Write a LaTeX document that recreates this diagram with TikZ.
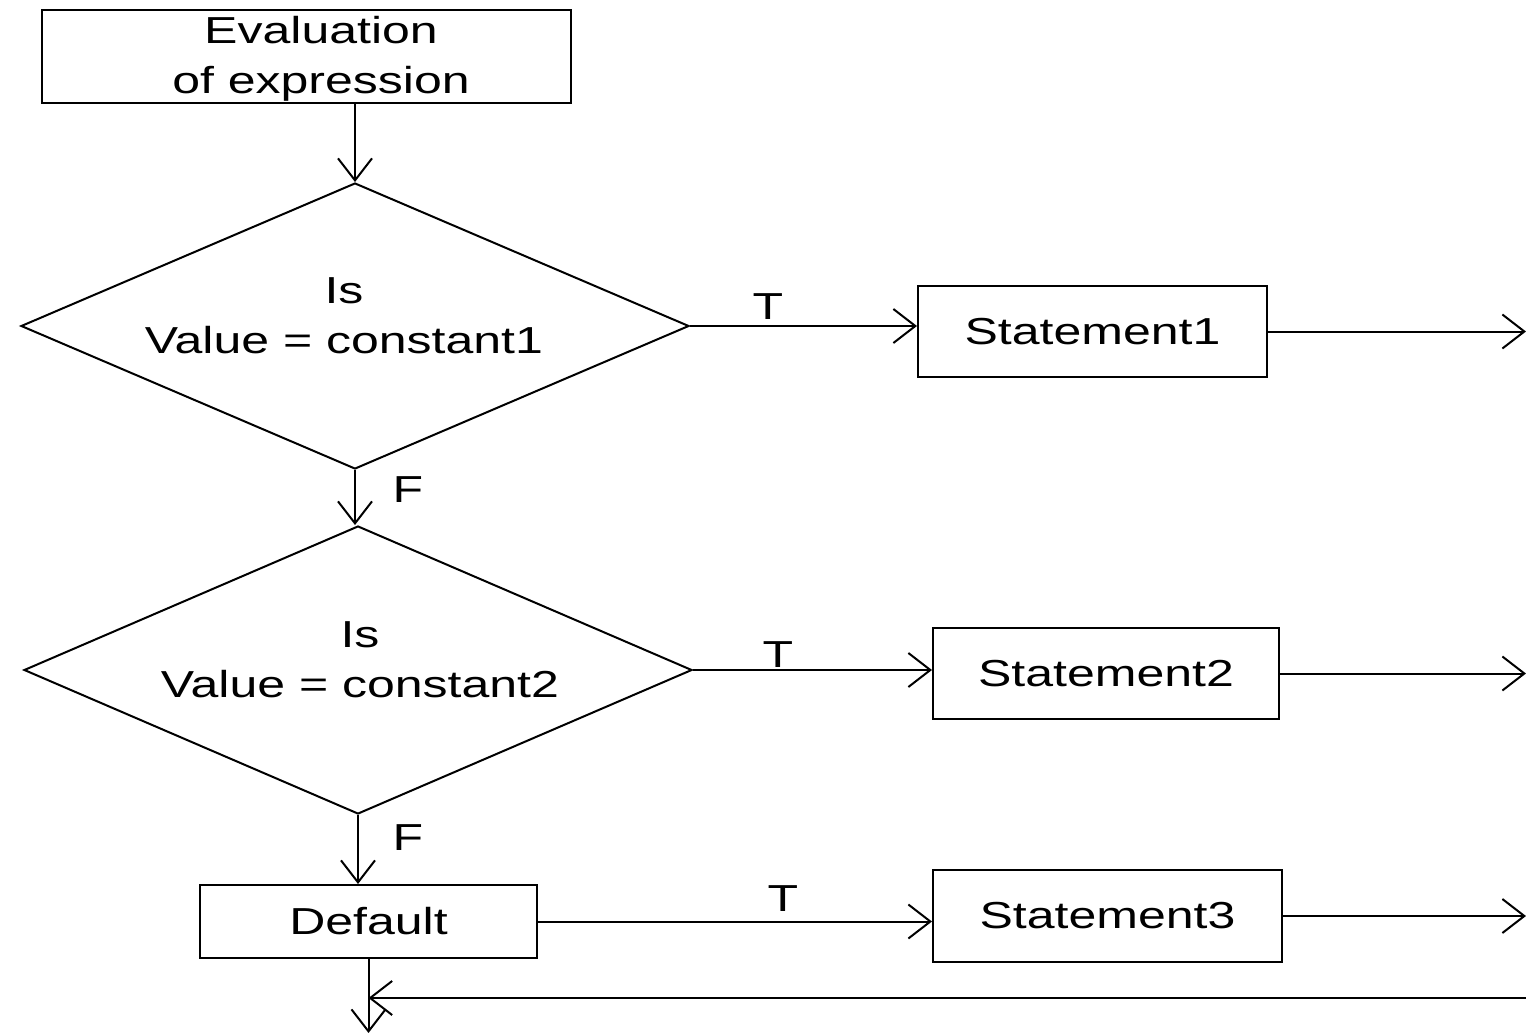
\documentclass[tikz,border=0pt]{standalone}
\usepackage{fontspec}
\setmainfont{Liberation Sans}
\usepackage{graphicx}
\usetikzlibrary{shapes.geometric,arrows.meta}
\newcommand{\wtxt}[1]{\scalebox{1.33}[1]{#1}}

\begin{document}
\begin{tikzpicture}[x=0.5pt, y=-0.5pt, line width=1pt,
    >={Straight Barb[length=11pt,width=17pt]},
    box/.style={draw, rectangle, inner sep=0pt, align=center, font=\fontsize{18.8}{25}\selectfont},
    test/.style={draw, diamond, aspect=2.34, inner sep=0pt, minimum width=334pt, minimum height=143pt},
    lbl/.style={align=center, font=\fontsize{18.8}{25}\selectfont}]
    \useasboundingbox (0,0) rectangle (1526,1033);

    \node[box, minimum width=264.5pt, minimum height=46.5pt] (eval) at (306.5,56.5) {};
    \node[lbl] (evaltxt) at (321,59) {\wtxt{Evaluation}\\\wtxt{of expression}};
    \node[test] (d1) at (355,326) {};
    \node[lbl] (d1txt) at (344,316) {\wtxt{Is}\\\wtxt{Value = constant1}};
    \node[test, minimum height=144pt] (d2) at (358,670) {};
    \node[lbl] (d2txt) at (360,660) {\wtxt{Is}\\\wtxt{Value = constant2}};
    \node[box, minimum width=168.5pt, minimum height=36.5pt] (dflt) at (368.5,921.5) {\wtxt{Default}};

    \node[box, minimum width=174.5pt, minimum height=45.5pt] (s1) at (1092.5,331.5) {\wtxt{Statement1}};
    \node[box, minimum width=173pt, minimum height=45.5pt] (s2) at (1106,673.5) {\wtxt{Statement2}};
    \node[box, minimum width=174.5pt, minimum height=46pt] (s3) at (1107.5,916) {\wtxt{Statement3}};

    \coordinate (rim) at (1526,0); % right edge
    \coordinate (back) at (1526,998);
    \coordinate (exit) at (368.5,1033);

    \draw[->] (eval.south -| d1.north) -- (d1.north);
    \draw[->] (d1.south) -- (d1.south |- d2.north);
    \draw[->] (d2.south) -- (d2.south |- dflt.north);
    \draw[->] (dflt.south) -- (exit);

    \draw[->] (d1.east) -- (d1.east -| s1.west);
    \draw[->] (d2.east) -- (d2.east -| s2.west);
    \draw[->] (dflt.east) -- (dflt.east -| s3.west);

    \draw[->] (s1.east) -- (s1.east -| rim);
    \draw[->] (s2.east) -- (s2.east -| rim);
    \draw[->] (s3.east) -- (s3.east -| rim);
    \draw[->] (back) -- (back -| dflt.south);

    \node[lbl] (t1) at (768,307) {\wtxt{T}};
    \node[lbl] (t2) at (778,655) {\wtxt{T}};
    \node[lbl] (t3) at (783,899) {\wtxt{T}};
    \node[lbl] (f1) at (408,490) {\wtxt{F}};
    \node[lbl] (f2) at (408,838) {\wtxt{F}};
\end{tikzpicture}
\end{document}
